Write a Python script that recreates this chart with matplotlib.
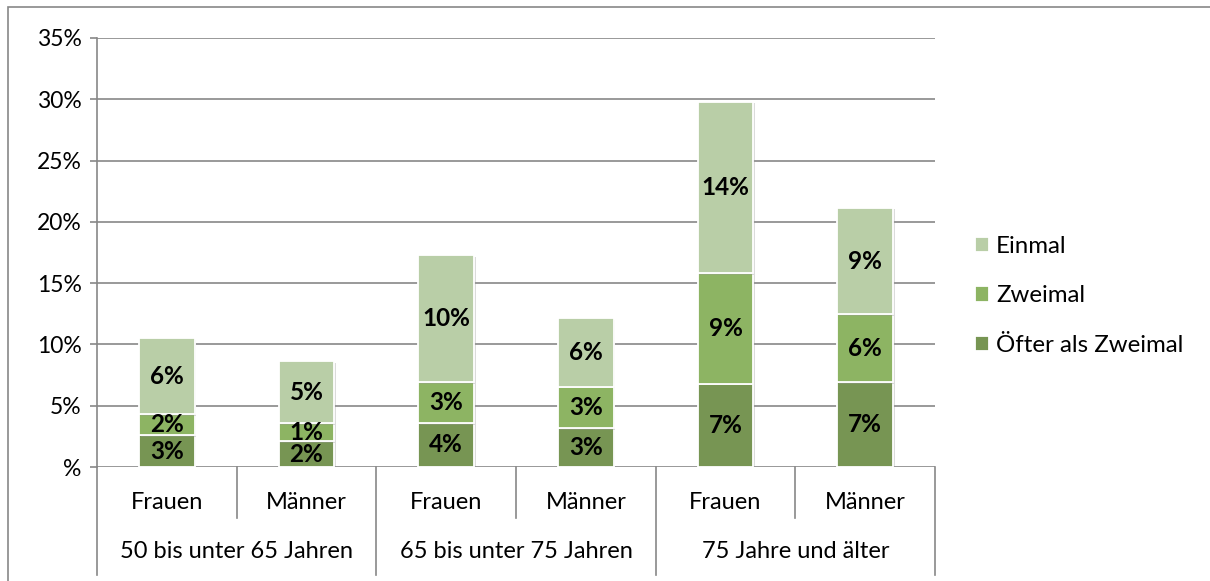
"""Stacked bar chart: frequency by age group and sex."""

import matplotlib
matplotlib.use("Agg")
from matplotlib import pyplot as plt
from matplotlib import patheffects as pe
from matplotlib.patches import Rectangle
import numpy as np

SEXES      = ["Frauen", "Männer", "Frauen", "Männer", "Frauen", "Männer"]
AGE_GROUPS = ["50 bis unter 65 Jahren", "65 bis unter 75 Jahren", "75 Jahre und älter"]

OEFTER  = [2.6, 2.1, 3.6, 3.15, 6.8, 6.9]
ZWEIMAL = [1.7, 1.46, 3.3, 3.4, 9.0, 5.55]
EINMAL  = [6.2, 5.1, 10.4, 5.6, 14.0, 8.7]

SERIES_NAMES  = ["Öfter als Zweimal", "Zweimal", "Einmal"]
SERIES_COLORS = ["#779553", "#8DB463", "#B9CEA7"]

Y_TICKS = [0, 5, 10, 15, 20, 25, 30, 35]

GRID_COLOR = "#878787"
FONT = "Lato"
FS = 17

W, H, DPI = 1210, 581, 100


def main() -> None:
    plt.rcParams.update({
        "font.family": [FONT, "DejaVu Sans"],
        "font.size":   FS,
    })
    fig = plt.figure(figsize=(W / DPI, H / DPI), dpi=DPI)
    fig.patches.append(Rectangle((8 / W, -0.1), 1.2, 1 - 7 / H + 0.1,
                                 transform=fig.transFigure, fill=False,
                                 edgecolor=GRID_COLOR, linewidth=1.2))

    ax = fig.add_axes([97 / W, (H - 467) / H, (935 - 97) / W, (467 - 38) / H])
    x = np.arange(len(SEXES))

    shadow = [pe.SimplePatchShadow(offset=(1.2, -1.2), shadow_rgbFace="#999999", alpha=0.35),
              pe.Normal()]
    bottom = np.zeros(len(SEXES))
    handles = []
    for vals, name, color in zip([OEFTER, ZWEIMAL, EINMAL], SERIES_NAMES, SERIES_COLORS):
        vals = np.array(vals)
        bars = ax.bar(x, vals, 0.4, bottom=bottom, color=color, edgecolor="white",
                      linewidth=1.3, zorder=3, label=name)
        for b in bars:
            b.set_path_effects(shadow)
        for xi, v, b0 in zip(x, vals, bottom):
            ax.text(xi, b0 + v / 2, f"{v:.0f}%", ha="center", va="center",
                    fontsize=FS + 0.5, fontweight="bold", color="black", zorder=4)
        handles.append(bars)
        bottom = bottom + vals

    ax.set_xlim(-0.5, len(SEXES) - 0.5)
    ax.set_ylim(0, 35)
    ax.set_yticks(Y_TICKS)
    ax.set_yticklabels(["%" if t == 0 else f"{t}%" for t in Y_TICKS])
    ax.yaxis.grid(True, color=GRID_COLOR, linewidth=1.2, zorder=0)
    ax.set_axisbelow(True)
    ax.tick_params(axis="y", length=5, width=1.2, color=GRID_COLOR, pad=6, labelsize=FS - 0.5)
    ax.set_xticks([])
    for s in ["top", "right", "bottom"]:
        ax.spines[s].set_visible(False)
    ax.spines["left"].set_color(GRID_COLOR)
    ax.spines["left"].set_linewidth(1.2)

    # two-level category axis
    trans = ax.get_xaxis_transform()
    y_inner, y_outer = -0.12, -0.252
    for i in range(len(SEXES) + 1):
        xb = i - 0.5
        y_end = y_outer if i % 2 == 0 else y_inner
        ax.plot([xb, xb], [0, y_end], color=GRID_COLOR, linewidth=1.2,
                transform=trans, clip_on=False)
    for xi, s in zip(x, SEXES):
        ax.text(xi, -0.083, s, ha="center", va="center", fontsize=FS, transform=trans)
    for gi, g in enumerate(AGE_GROUPS):
        ax.text(2 * gi + 0.5, -0.197, g, ha="center", va="center", fontsize=FS,
                transform=trans)

    leg = fig.legend(handles[::-1], SERIES_NAMES[::-1], loc="center left",
                     bbox_to_anchor=(953 / W, (H - 296) / H), frameon=False,
                     fontsize=FS + 0.3, handlelength=0.6, handleheight=0.6,
                     handletextpad=0.3, labelspacing=1.2)
    for h in leg.legend_handles:
        h.set_path_effects([])

    fig.savefig("out.png", dpi=DPI)
    plt.close(fig)


if __name__ == "__main__":
    main()
